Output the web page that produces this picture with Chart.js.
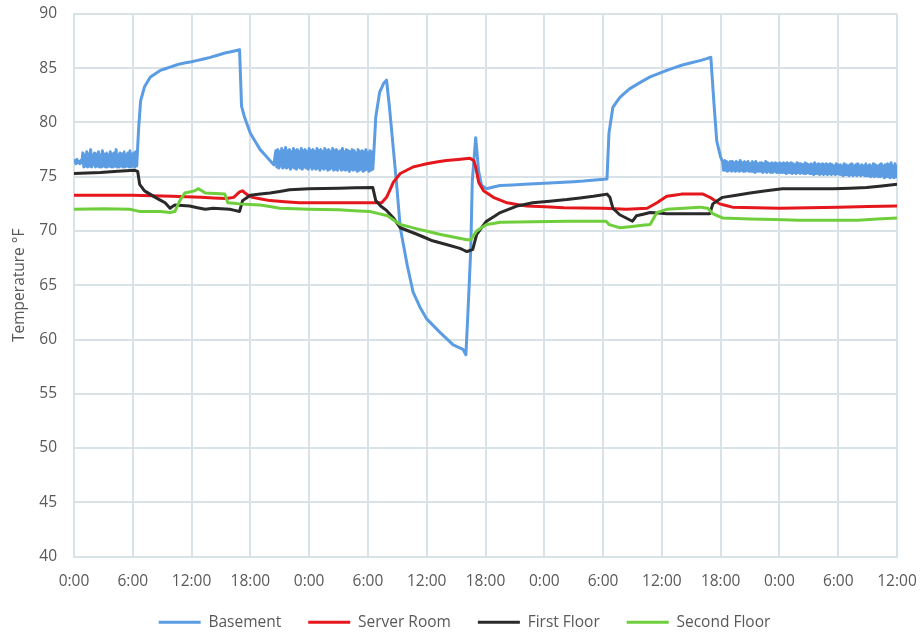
<!DOCTYPE html>
<html>
<head>
<meta charset="utf-8">
<script src="https://cdn.jsdelivr.net/npm/chart.js@4/dist/chart.umd.min.js"></script>
<style>
  html, body { margin: 0; padding: 0; background: #fff; overflow: hidden; }
  #wrap { width: 921px; height: 632px; }
</style>
</head>
<body>
<div id="wrap"><canvas id="myChart" width="921" height="632"></canvas></div>
<script>
// hours since first midnight, temperature in °F
const basementHours = [
  0, 0.1, 0.2, 0.3, 0.4, 0.5, 0.6, 0.7, 0.8, 0.9,
  1, 1.1, 1.2, 1.3, 1.4, 1.5, 1.6, 1.7, 1.8, 1.9,
  2, 2.1, 2.2, 2.3, 2.4, 2.5, 2.6, 2.7, 2.8, 2.9,
  3, 3.1, 3.2, 3.3, 3.4, 3.5, 3.6, 3.7, 3.8, 3.9,
  4, 4.1, 4.2, 4.3, 4.4, 4.5, 4.6, 4.7, 4.8, 4.9,
  5, 5.1, 5.2, 5.3, 5.4, 5.5, 5.6, 5.7, 5.8, 5.9,
  6, 6.1, 6.2, 6.3, 6.4,
  6.6, 6.8, 7.2, 7.8, 8.8, 9.8, 10.8, 12, 13, 13.9, 15.4, 16.9,
  17.1, 17.4, 18, 19, 20, 20.4,
  20.6, 20.7, 20.8, 20.9, 21, 21.1, 21.2, 21.3, 21.4, 21.5,
  21.6, 21.7, 21.8, 21.9, 22, 22.1, 22.2, 22.3, 22.4, 22.5,
  22.6, 22.7, 22.8, 22.9, 23, 23.1, 23.2, 23.3, 23.4, 23.5,
  23.6, 23.7, 23.8, 23.9, 24, 24.1, 24.2, 24.3, 24.4, 24.5,
  24.6, 24.7, 24.8, 24.9, 25, 25.1, 25.2, 25.3, 25.4, 25.5,
  25.6, 25.7, 25.8, 25.9, 26, 26.1, 26.2, 26.3, 26.4, 26.5,
  26.6, 26.7, 26.8, 26.9, 27, 27.1, 27.2, 27.3, 27.4, 27.5,
  27.6, 27.7, 27.8, 27.9, 28, 28.1, 28.2, 28.3, 28.4, 28.5,
  28.6, 28.7, 28.8, 28.9, 29, 29.1, 29.2, 29.3, 29.4, 29.5,
  29.6, 29.7, 29.8, 29.9, 30, 30.1, 30.2, 30.3, 30.4, 30.5,
  30.6,
  30.8, 31.2, 31.6, 31.9, 32.2, 32.6, 32.9, 33.3, 34, 34.6, 35.3, 36, 37.3, 38.7, 39.7, 40,
  40.2, 40.5, 40.65, 41, 41.3, 41.6, 42.1, 43.5, 46, 48, 50, 52, 54.4,
  54.6, 55, 55.7, 56.7, 57.8, 58.8, 60.5, 62.1, 63.9, 65, 65.3, 65.6, 66,
  66.2, 66.3, 66.4, 66.5, 66.6, 66.7, 66.8, 66.9, 67, 67.1,
  67.2, 67.3, 67.4, 67.5, 67.6, 67.7, 67.8, 67.9, 68, 68.1,
  68.2, 68.3, 68.4, 68.5, 68.6, 68.7, 68.8, 68.9, 69, 69.1,
  69.2, 69.3, 69.4, 69.5, 69.6, 69.7, 69.8, 69.9, 70, 70.1,
  70.2, 70.3, 70.4, 70.5, 70.6, 70.7, 70.8, 70.9, 71, 71.1,
  71.2, 71.3, 71.4, 71.5, 71.6, 71.7, 71.8, 71.9, 72, 72.1,
  72.2, 72.3, 72.4, 72.5, 72.6, 72.7, 72.8, 72.9, 73, 73.1,
  73.2, 73.3, 73.4, 73.5, 73.6, 73.7, 73.8, 73.9, 74, 74.1,
  74.2, 74.3, 74.4, 74.5, 74.6, 74.7, 74.8, 74.9, 75, 75.1,
  75.2, 75.3, 75.4, 75.5, 75.6, 75.7, 75.8, 75.9, 76, 76.1,
  76.2, 76.3, 76.4, 76.5, 76.6, 76.7, 76.8, 76.9, 77, 77.1,
  77.2, 77.3, 77.4, 77.5, 77.6, 77.7, 77.8, 77.9, 78, 78.1,
  78.2, 78.3, 78.4, 78.5, 78.6, 78.7, 78.8, 78.9, 79, 79.1,
  79.2, 79.3, 79.4, 79.5, 79.6, 79.7, 79.8, 79.9, 80, 80.1,
  80.2, 80.3, 80.4, 80.5, 80.6, 80.7, 80.8, 80.9, 81, 81.1,
  81.2, 81.3, 81.4, 81.5, 81.6, 81.7, 81.8, 81.9, 82, 82.1,
  82.2, 82.3, 82.4, 82.5, 82.6, 82.7, 82.8, 82.9, 83, 83.1,
  83.2, 83.3, 83.4, 83.5, 83.6, 83.7, 83.8, 83.9, 84
];
const basementTemps = [
  76.3, 76.5, 76.2, 76.6, 76.3, 76.4, 76.2, 76.5, 76.3,
  77.2, 75.9, 77.0, 76.0, 77.3, 75.9, 77.1, 76.0, 77.5, 75.9,
  77.0, 76.1, 77.2, 75.9, 77.1, 76.0, 77.3, 75.9, 77.0, 75.9,
  77.4, 76.0, 77.1, 75.9, 77.2, 75.9, 77.0, 76.0, 77.3, 75.9,
  77.1, 75.9, 77.2, 76.0, 77.5, 75.9, 77.0, 75.9, 77.2, 76.0,
  77.1, 75.9, 77.3, 75.9, 77.0, 76.0, 77.2, 75.9, 77.4, 75.9,
  77.1, 76.0, 77.2, 75.9, 77.3, 76.0,
  79.5, 82.0, 83.3, 84.2, 84.8, 85.1, 85.4, 85.6, 85.8, 86.0, 86.4, 86.7,
  81.5, 80.5, 79.0, 77.5, 76.5, 76.1,
  77.4, 75.9, 77.5, 75.8, 77.3, 76.0, 77.6, 75.8, 77.4, 75.9,
  77.7, 75.8, 77.4, 75.9, 77.5, 75.7, 77.3, 75.9, 77.6, 75.8,
  77.4, 75.7, 77.5, 75.9, 77.3, 75.8, 77.6, 75.7, 77.4, 75.9,
  77.5, 75.8, 77.3, 75.7, 77.6, 75.9, 77.4, 75.7, 77.5, 75.8,
  77.3, 75.7, 77.6, 75.8, 77.4, 75.6, 77.5, 75.8, 77.3, 75.7,
  77.6, 75.8, 77.4, 75.6, 77.5, 75.7, 77.3, 75.8, 77.6, 75.6,
  77.4, 75.7, 77.5, 75.6, 77.3, 75.8, 77.4, 75.6, 77.6, 75.7,
  77.3, 75.6, 77.5, 75.7, 77.4, 75.5, 77.3, 75.7, 77.5, 75.6,
  77.4, 75.7, 77.2, 75.5, 77.5, 75.6, 77.3, 75.7, 77.4, 75.5,
  77.3, 75.6, 77.5, 75.7, 77.2, 75.5, 77.4, 75.6, 77.3, 75.7,
  77.2,
  80.5, 82.8, 83.6, 83.9, 81.4, 77.5, 74.6, 70.3, 66.9, 64.4, 63.0, 61.9, 60.7, 59.5, 59.1, 58.6,
  62.3, 68.4, 74.6, 78.6, 75.5, 74.2, 73.9, 74.2, 74.3, 74.4, 74.5, 74.6, 74.8,
  79.0, 81.4, 82.3, 83.1, 83.7, 84.2, 84.8, 85.3, 85.7, 86.0, 82.0, 78.3, 76.8,
  76.4, 75.6, 76.5, 75.6, 76.4, 75.5, 76.3, 75.6, 76.4, 75.5,
  76.4, 75.6, 76.3, 75.5, 76.4, 75.6, 76.3, 75.5, 76.5, 75.6,
  76.3, 75.5, 76.4, 75.5, 76.3, 75.6, 76.4, 75.5, 76.2, 75.5,
  76.4, 75.5, 76.3, 75.4, 76.4, 75.5, 76.2, 75.5, 76.3, 75.5,
  76.3, 75.4, 76.2, 75.5, 76.4, 75.4, 76.3, 75.5, 76.2, 75.4,
  76.3, 75.4, 76.2, 75.5, 76.3, 75.4, 76.2, 75.4, 76.3, 75.4,
  76.2, 75.4, 76.3, 75.4, 76.2, 75.3, 76.3, 75.4, 76.2, 75.4,
  76.3, 75.3, 76.2, 75.4, 76.1, 75.3, 76.3, 75.4, 76.2, 75.3,
  76.2, 75.4, 76.1, 75.3, 76.3, 75.3, 76.2, 75.4, 76.1, 75.3,
  76.2, 75.3, 76.1, 75.2, 76.3, 75.3, 76.1, 75.3, 76.2, 75.2,
  76.1, 75.3, 76.2, 75.2, 76.1, 75.3, 76.2, 75.2, 76.1, 75.3,
  76.2, 75.2, 76.1, 75.3, 76.0, 75.2, 76.2, 75.3, 76.1, 75.2,
  76.1, 75.2, 76.0, 75.1, 76.2, 75.2, 76.1, 75.2, 76.0, 75.1,
  76.1, 75.2, 76.2, 75.1, 76.0, 75.2, 76.1, 75.1, 76.2, 75.2,
  76.0, 75.1, 76.1, 75.2, 76.0, 75.1, 76.2, 75.1, 76.0, 75.1,
  76.1, 75.0, 76.0, 75.1, 76.2, 75.0, 76.1, 75.1, 76.0, 75.0,
  76.1, 75.0, 76.2, 75.1, 76.0, 74.9, 76.1, 75.0, 76.2, 75.0,
  76.1, 74.9, 76.3, 75.0, 76.0, 74.9, 76.2, 75.0, 76.1
];

const serverHours = [0, 6, 10, 13, 15.5, 16.3, 16.9, 17.2, 17.6, 18.2, 20, 23, 27, 31.4, 31.9, 32.6, 33.3,
  34.6, 36, 38, 40.4, 40.8, 41, 41.3, 41.8, 42.8, 44.2, 46.2, 50, 54, 56.4, 58.5, 59.5, 60.5, 62,
  64.2, 64.9, 65.9, 67.2, 72, 78, 84];
const serverTemps = [73.3, 73.3, 73.2, 73.1, 73.0, 73.1, 73.6, 73.7, 73.4, 73.1, 72.8, 72.6, 72.6, 72.6, 73.1, 74.5, 75.3,
  75.9, 76.2, 76.5, 76.7, 76.5, 75.9, 74.5, 73.7, 73.1, 72.6, 72.3, 72.15, 72.1, 72.0, 72.1, 72.6, 73.2, 73.4,
  73.4, 73.1, 72.5, 72.2, 72.1, 72.2, 72.3];

const firstHours = [0, 2.7, 6.2, 6.5, 6.7, 7.2, 8.3, 9.3, 9.8, 10.3, 11.8, 13.4, 14.2, 15.9, 16.9, 17.2, 18, 20, 22,
  24, 27, 30.5, 30.8, 31.3, 31.9, 32.6, 33.3, 35, 36.6, 39.4, 40.1, 40.7, 41.1, 42.1, 43.5, 45.2, 46.8,
  50.3, 53, 54.4, 54.7, 55, 55.7, 57, 57.4, 58.8, 60.5, 62.2, 64.9, 65.2, 66.2, 69, 72.3, 77.5, 80.9, 84];
const firstTemps = [75.3, 75.4, 75.6, 75.5, 74.3, 73.7, 73.1, 72.6, 72.1, 72.4, 72.3, 72.0, 72.1, 72.0, 71.8, 72.8, 73.3, 73.5, 73.8,
  73.9, 73.95, 74.0, 72.8, 72.3, 71.9, 71.2, 70.3, 69.7, 69.1, 68.4, 68.1, 68.3, 69.7, 70.9, 71.7, 72.3, 72.6,
  72.9, 73.2, 73.4, 73.1, 72.1, 71.5, 70.9, 71.4, 71.7, 71.6, 71.6, 71.6, 72.5, 73.1, 73.5, 73.9, 73.9, 74.0, 74.3];

const secondHours = [0, 3, 5.7, 6.7, 8.8, 9.8, 10.3, 10.8, 11.3, 12.3, 12.7, 13.4, 15.4, 15.7, 16.9, 19, 21, 24, 27,
  30.2, 32, 33.3, 35, 37.3, 40.1, 40.5, 41.1, 42.1, 43.5, 50.3, 54.3, 54.6, 55.7, 57.8, 58.8, 59.5, 60.5,
  62.2, 63.9, 64.7, 65.2, 66.2, 69, 74, 80, 84];
const secondTemps = [72.0, 72.05, 72.0, 71.8, 71.8, 71.7, 71.8, 72.8, 73.5, 73.7, 73.9, 73.5, 73.4, 72.6, 72.5, 72.4, 72.1, 72.0, 71.95,
  71.8, 71.4, 70.6, 70.2, 69.7, 69.2, 69.2, 70.0, 70.6, 70.8, 70.9, 70.9, 70.6, 70.3, 70.5, 70.6, 71.7, 72.0,
  72.1, 72.2, 72.1, 71.6, 71.2, 71.1, 71.0, 71.0, 71.2];

const seriesNames = ['Basement', 'Server Room', 'First Floor', 'Second Floor'];
const seriesColors = ['#5b9ce3', '#e5171d', '#2a2a2a', '#6fce3b'];

const textColor = '#595959';
const gridColor = '#d9e2e6';
const fontSpec = { family: "'Open Sans', sans-serif", size: 15.5 };

function toPoints(hours, temps) {
  return hours.map((h, i) => ({ x: h, y: temps[i] }));
}

const allSeries = [
  toPoints(basementHours, basementTemps),
  toPoints(serverHours, serverTemps),
  toPoints(firstHours, firstTemps),
  toPoints(secondHours, secondTemps)
];

const datasets = allSeries.map((pts, i) => ({
  label: seriesNames[i],
  data: pts,
  borderColor: seriesColors[i],
  backgroundColor: seriesColors[i],
  borderWidth: 3,
  borderJoinStyle: 'round',
  pointRadius: 0,
  pointBorderWidth: 3,
  // a tiny tension keeps chart.js off its fast path, so the dense basement zigzag is drawn point by point
  tension: 0.0001,
  order: 3 - i
}));

// nudge the legend a bit to the right, like the original
const legendShift = {
  id: 'legendShift',
  afterLayout(chart) {
    chart.legend.left += 16;
    chart.legend.right += 16;
  }
};

const ctx = document.getElementById('myChart');

const config = {
  type: 'line',
  data: { datasets: datasets },
  plugins: [legendShift],
  options: {
    responsive: false,
    animation: false,
    devicePixelRatio: 1,
    layout: { padding: { top: 14, right: 24, left: 0, bottom: -8 } },
    scales: {
      x: {
        type: 'linear',
        min: 0,
        max: 84,
        ticks: {
          stepSize: 6,
          color: textColor,
          font: fontSpec,
          padding: 16,
          maxRotation: 0,
          autoSkip: false,
          callback: (v) => (v % 24) + ':00'
        },
        grid: { color: gridColor, lineWidth: 2, drawTicks: false },
        border: { color: gridColor, width: 2 },
        afterFit: (s) => { s.height = 31; s.paddingLeft = 0; s.paddingRight = 0; }
      },
      y: {
        min: 40,
        max: 90,
        ticks: { stepSize: 5, padding: 17, color: textColor, font: fontSpec },
        grid: { color: gridColor, lineWidth: 2, drawTicks: false },
        border: { color: gridColor, width: 2 },
        title: {
          display: true,
          text: 'Temperature °F',
          color: textColor,
          font: fontSpec,
          padding: { top: 10, bottom: 0 }
        },
        afterFit: (s) => { s.width = 74; s.paddingTop = 0; s.paddingBottom = 0; }
      }
    },
    plugins: {
      legend: {
        position: 'bottom',
        labels: {
          usePointStyle: true,
          pointStyle: 'line',
          pointStyleWidth: 42,
          padding: 27,
          color: textColor,
          font: fontSpec,
          sort: (a, b) => a.datasetIndex - b.datasetIndex
        }
      },
      tooltip: { enabled: false }
    }
  }
};

const myChart = new Chart(ctx, config);
</script>
</body>
</html>
